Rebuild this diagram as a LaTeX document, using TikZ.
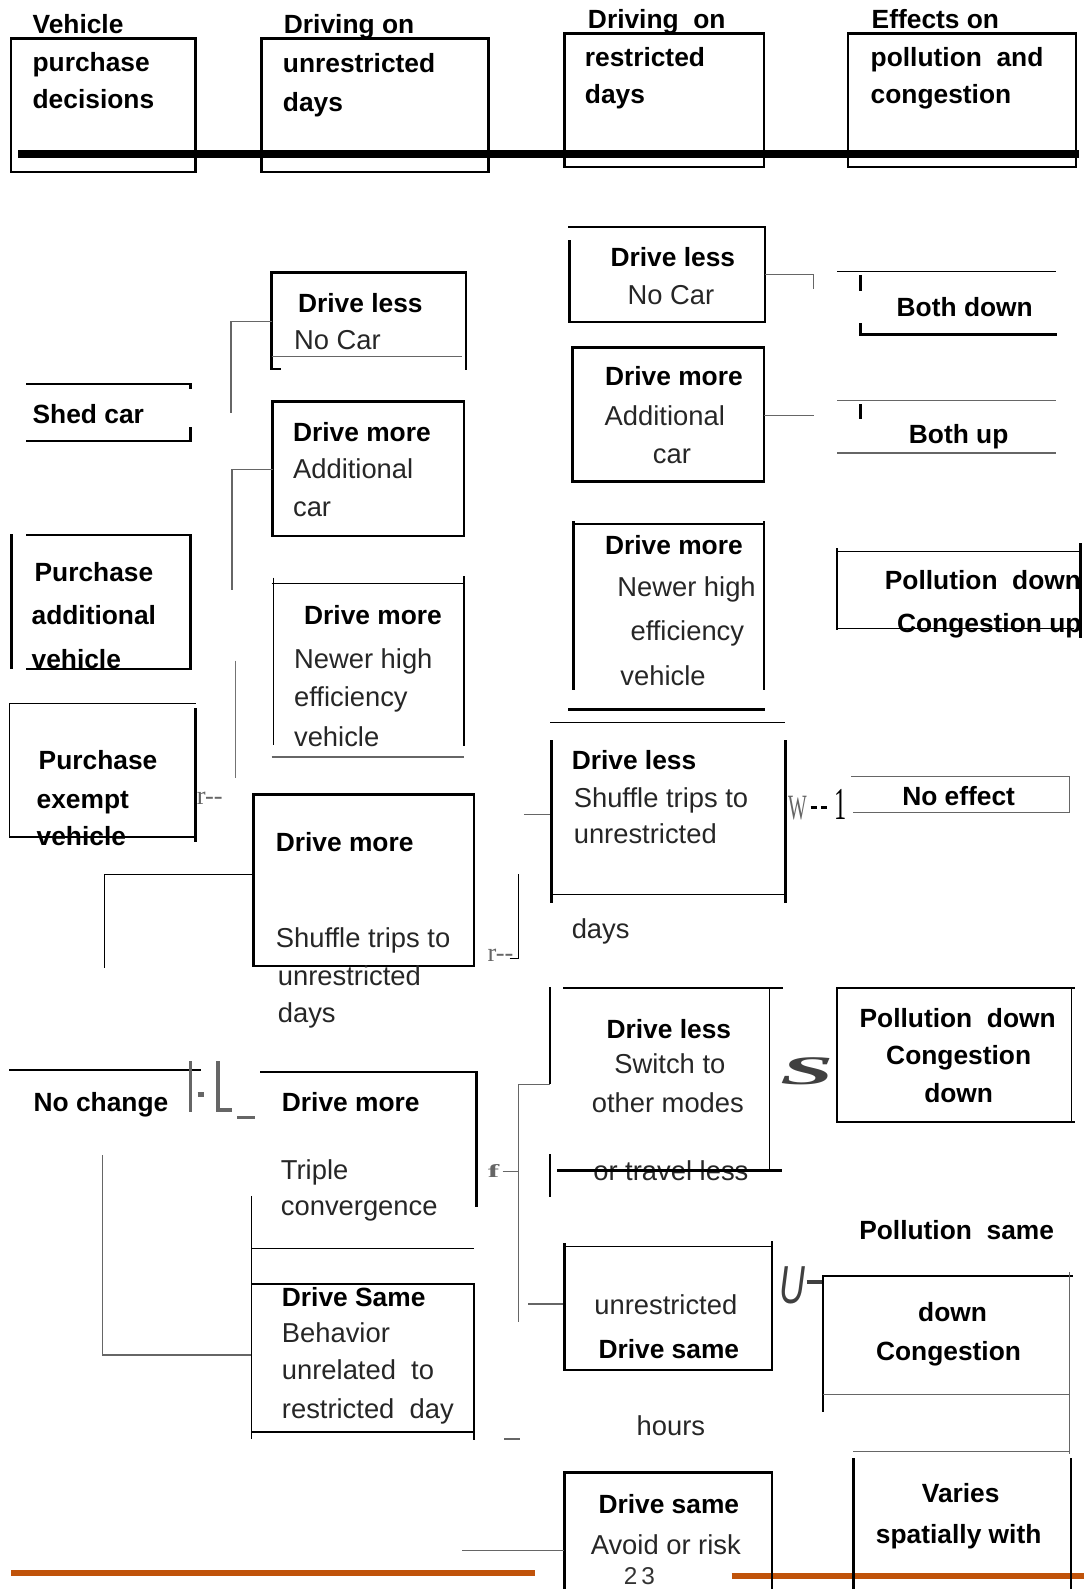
\documentclass[tikz,border=0pt]{standalone}
\usepackage{fontspec}
\setmainfont{Liberation Sans}
\newfontfamily\serifx{Liberation Serif}
\definecolor{orng}{HTML}{C0530A}
\begin{document}
\begin{tikzpicture}[x=1pt,y=-1pt,
  bt/.style={font=\bfseries\fontsize{26}{30}\selectfont, inner sep=0pt, text height=19pt, text depth=0pt},
  rt/.style={font=\fontsize{27}{32}\selectfont, text=black!85, inner sep=0pt, text height=19pt, text depth=0pt},
  thk/.style={line width=2.4pt, line cap=rect},
  thn/.style={line width=1.2pt},
  gry/.style={draw=black!60},
  glyph/.style={text=black!60, inner sep=0pt}]
\useasboundingbox (0,0) rectangle (1070,1568);
% orange footer lines
\draw[orng, line width=6pt] (11,1552) -- (528,1552);
\draw[orng, line width=6pt] (722,1555) -- (1070,1555);
% ---------- header ----------
\draw[thk] (11,38) rectangle (193,170);
\node[bt,anchor=west] (h1a) at (32,24) {Vehicle};
\node[bt,anchor=west] (h1b) at (32,61) {purchase};
\node[bt,anchor=west] (h1c) at (32,98) {decisions};
\draw[thk] (258,38) rectangle (482,170);
\node[bt,anchor=west] (h2a) at (280,24) {Driving on};
\node[bt,anchor=west] (h2b) at (279,62) {unrestricted};
\node[bt,anchor=west] (h2c) at (279,101) {days};
\draw[thk] (557,33) rectangle (754,165);
\node[bt,anchor=west] (h3a) at (580,19) {Driving\ \ on};
\node[bt,anchor=west] (h3b) at (577,56) {restricted};
\node[bt,anchor=west] (h3c) at (577,93) {days};
\draw[thk] (837,33) rectangle (1062,165);
\node[bt,anchor=west] (h4a) at (860,19) {Effects on};
\node[bt,anchor=west] (h4b) at (859,56) {pollution\ \ and};
\node[bt,anchor=west] (h4c) at (859,93) {congestion};
\draw[line width=7pt] (18,152) -- (1065,152);
% ---------- column 1 ----------
\draw[thk] (27,379) -- (188,379) -- (188,383);
\draw[thk] (27,435) -- (188,435) -- (188,423);
\node[bt,anchor=west] (shed) at (32,408) {Shed car};
\draw[line width=3pt] (11,527) -- (11,660);
\draw[thk] (27,528) -- (188,528) -- (188,660) -- (27,660);
\node[bt,anchor=west] (pa1) at (34,564) {Purchase};
\node[bt,anchor=west] (pa2) at (31,607) {additional};
\node[bt,anchor=west] (pa3) at (31,650) {vehicle};
\draw[thn] (193,694) -- (9,694) -- (9,826) -- (193,826);
\draw[thk] (193,700) -- (193,830);
\node[bt,anchor=west] (pe1) at (38,750) {Purchase};
\node[bt,anchor=west] (pe2) at (36,788) {exempt};
\node[bt,anchor=west] (pe3) at (36,825) {vehicle};
\node[glyph,anchor=west,font=\serifx\fontsize{26}{26}\selectfont] (rA) at (194,788) {r-{}-};
\draw[thk] (10,1056) -- (197,1056);
\node[bt,anchor=west] (nc) at (33,1087) {No change};
\draw[black!60, line width=3pt] (188,1047) -- (188,1097);
\draw[black!60, line width=4pt] (195,1080) -- (201,1080);
\draw[black!60, line width=4pt] (215,1047) -- (215,1095) -- (229,1095);
\draw[black!60, line width=3pt] (234,1103) -- (252,1103);
% ---------- column 2 ----------
\draw[thk] (276,364) -- (268,364) -- (268,269) -- (460,269) -- (460,364);
\draw[thn,gry] (268,352) -- (456,352);
\node[bt,anchor=west] (c2a1) at (294,299) {Drive less};
\node[rt,anchor=west] (c2a2) at (290,335) {No Car};
\coordinate (k1) at (268,317);
\draw[thn,gry] (k1) -- (228,317) -- (228,408);
\draw[thk] (269,396) rectangle (458,529);
\node[bt,anchor=west] (c2b1) at (289,426) {Drive more};
\node[rt,anchor=west] (c2b2) at (289,463) {Additional};
\node[rt,anchor=west] (c2b3) at (289,500) {car};
\coordinate (k2) at (269,463);
\draw[thn,gry] (k2) -- (229,463) -- (229,582);
\draw[thn,black!55] (232,652) -- (232,768);
\draw[thn] (268,576) -- (458,576);
\draw[thn] (270,570) -- (270,735);
\draw[thk] (458,570) -- (458,735);
\draw[thn,gry] (268,747) -- (458,747);
\node[bt,anchor=west] (c2c1) at (300,607) {Drive more};
\node[rt,anchor=west] (c2c2) at (290,650) {Newer high};
\node[rt,anchor=west] (c2c3) at (290,688) {efficiency};
\node[rt,anchor=west] (c2c4) at (290,727) {vehicle};
\draw[thk] (250,784) rectangle (468,953);
\node[bt,anchor=west] (c2d1) at (272,831) {Drive more};
\node[rt,anchor=west] (c2d2) at (272,925) {Shuffle trips to};
\node[rt,anchor=west] (c2d3) at (274,963) {unrestricted};
\node[rt,anchor=west] (c2d4) at (274,999) {days};
\coordinate (k3) at (250,863);
\draw[thn] (k3) -- (103,863) -- (103,955);
\node[glyph,anchor=west,font=\serifx\fontsize{26}{26}\selectfont] (rB) at (481,943) {r-{}-};
\draw[thn] (503,946) -- (512,946) -- (512,862);
\draw[thn,gry] (517,804) -- (543,804);
\draw[thk] (258,1058) -- (470,1058) -- (470,1190);
\draw[thn] (248,1180) -- (248,1420);
\draw[thn] (248,1232) -- (468,1232);
\node[bt,anchor=west] (c2e1) at (278,1087) {Drive more};
\node[rt,anchor=west] (c2e2) at (277,1154) {Triple};
\node[rt,anchor=west] (c2e3) at (277,1190) {convergence};
\node[glyph,anchor=center,font=\serifx\bfseries\fontsize{26}{26}\selectfont] (fA) at (487,1156) {\scalebox{1.3}[0.7]{f}};
\draw[thn,gry] (496,1156) -- (512,1156);
\draw[thn,gry] (512,1070) -- (512,1305);
\draw[thn,gry] (512,1070) -- (543,1070);
\draw[thk,gry] (522,1287) -- (555,1287);
\draw[thn] (248,1267) -- (468,1267);
\draw[thk] (468,1267) -- (468,1420);
\draw[thn] (248,1413) -- (468,1413);
\node[bt,anchor=west] (c2f1) at (278,1280) {Drive Same};
\node[rt,anchor=west] (c2f2) at (278,1315) {Behavior};
\node[rt,anchor=west] (c2f3) at (278,1352) {unrelated\ \ to};
\node[rt,anchor=west] (c2f4) at (278,1390) {restricted\ \ day};
\coordinate (k4) at (248,1337);
\draw[thn,gry] (101,1140) -- (101,1337) -- (k4);
\draw[thk,gry] (499,1420) -- (512,1420);
% ---------- column 3 ----------
\draw[thk] (562,224) -- (755,224) -- (755,318) -- (562,318) -- (562,238);
\node[bt] (c3a1) at (664,253) {Drive less};
\node[rt] (c3a2) at (662,291) {No Car};
\coordinate (k5) at (755,271);
\draw[thn,gry] (k5) -- (803,271) -- (803,285);
\draw[thk] (565,343) rectangle (754,475);
\node[bt] (c3b1) at (665,371) {Drive more};
\node[rt] (c3b2) at (656,410) {Additional};
\node[rt] (c3b3) at (663,448) {car};
\coordinate (k6) at (754,410);
\draw[thn,gry] (k6) -- (803,410);
\draw[thn] (565,517) -- (754,517);
\draw[thk] (566,515) -- (566,680);
\draw[thk] (754,515) -- (754,680);
\draw[thk] (562,700) -- (754,700);
\node[bt] (c3c1) at (665,538) {Drive more};
\node[rt,anchor=west] (c3c2) at (609,579) {Newer high};
\node[rt,anchor=west] (c3c3) at (622,623) {efficiency};
\node[rt,anchor=west] (c3c4) at (612,667) {vehicle};
\draw[thn] (543,713) -- (775,713);
\draw[thk] (544,731) -- (544,890);
\draw[thk] (775,731) -- (775,890);
\draw[thn] (543,883) -- (775,883);
\node[bt,anchor=west] (c3d1) at (564,750) {Drive less};
\node[rt,anchor=west] (c3d2) at (566,787) {Shuffle trips to};
\node[rt,anchor=west] (c3d3) at (566,823) {unrestricted};
\node[rt,anchor=west] (c3d4) at (564,917) {days};
\node[glyph,anchor=center,font=\serifx\fontsize{26}{26}\selectfont] (wA) at (787,797) {\scalebox{0.75}[1.35]{W}};
\draw[line width=3pt] (800,797) -- (806,797);
\draw[line width=3pt] (810,797) -- (816,797);
\node[anchor=center,inner sep=0pt,font=\serifx\fontsize{30}{30}\selectfont] (wC) at (829,794) {\scalebox{0.8}[1.5]{1}};
\draw[thn] (556,975) -- (773,975);
\draw[thk] (543,975) -- (543,1068);
\draw[thk] (543,1140) -- (543,1180);
\draw[thn] (759,975) -- (759,1155);
\node[bt] (c3e1) at (660,1015) {Drive less};
\node[rt] (c3e2) at (661,1050) {Switch to};
\node[rt] (c3e3) at (659,1088) {other modes};
\node[rt] (c3e4) at (662,1155) {or travel less};
\draw[thk] (551,1155) -- (770,1155);
\node[text=black!75,inner sep=0pt,font=\serifx\bfseries\itshape\fontsize{50}{50}\selectfont] (sA) at (797,1057) {\scalebox{1.9}[0.8]{S}};
\draw[thn] (557,1230) -- (762,1230);
\draw[thk] (557,1228) -- (557,1352) -- (762,1352) -- (762,1226);
\node[rt] (c3f1) at (657,1288) {unrestricted};
\node[bt] (c3f2) at (660,1331) {Drive same};
\node[rt] (c3f3) at (662,1407) {hours};
\node[text=black!75,inner sep=0pt,font=\itshape\fontsize{44}{44}\selectfont] (uA) at (782,1268) {\scalebox{0.8}[1.2]{U}};
\draw[black!75, line width=4pt] (796,1265) -- (812,1265);
\draw[thk] (557,1568) -- (557,1453) -- (762,1453) -- (762,1568);
\node[bt] (c3g1) at (660,1484) {Drive same};
\node[rt] (c3g2) at (657,1524) {Avoid or risk};
\node[inner sep=0pt,text=black!80,font=\fontsize{24}{24}\selectfont] (pg) at (631,1555) {2\,3};
\coordinate (k7) at (557,1530);
\draw[thn,gry] (456,1530) -- (k7);
% ---------- column 4 ----------
\draw[thn] (826,268) -- (1042,268);
\draw[thk] (849,273) -- (849,286);
\draw[thk] (849,320) -- (849,330) -- (1042,330);
\node[bt] (c4a) at (952,303) {Both down};
\draw[thn,gry] (826,395) -- (1042,395);
\draw[thk] (849,400) -- (849,412);
\draw[thn,gry] (826,447) -- (1042,447);
\node[bt] (c4b) at (946,428) {Both up};
\draw[thn] (826,544) -- (1065,544);
\draw[thn] (826,541) -- (826,622);
\draw[thk] (1066,537) -- (1066,628);
\node[bt,anchor=west] (c4c1) at (873,572) {Pollution\ \ down};
\node[bt,anchor=west] (c4c2) at (885,615) {Congestion up};
\draw[thn] (826,620) -- (1060,620);
\draw[thn,gry] (840,766) -- (1055,766) -- (1055,802) -- (842,802);
\node[bt] (c4d) at (946,785) {No effect};
\draw[thk] (826,975) -- (1060,975);
\draw[thk] (826,975) -- (826,1107) -- (1060,1107);
\draw[thn] (1057,975) -- (1057,1107);
\node[bt] (c4e1) at (945,1004) {Pollution\ \ down};
\node[bt] (c4e2) at (946,1041) {Congestion};
\node[bt] (c4e3) at (946,1078) {down};
\node[bt] (c4f0) at (944,1214) {Pollution\ \ same};
\draw[thk] (812,1392) -- (812,1259) -- (1058,1259);
\draw[thn,gry] (812,1376) -- (1055,1376);
\draw[thn,gry] (1055,1255) -- (1055,1435);
\node[bt] (c4f1) at (940,1295) {down};
\node[bt] (c4f2) at (936,1333) {Congestion};
\draw[thn,gry] (842,1432) -- (1055,1432);
\draw[thk] (842,1440) -- (842,1568);
\draw[thk] (1057,1440) -- (1057,1568);
\node[bt] (c4g1) at (948,1473) {Varies};
\node[bt] (c4g2) at (946,1514) {spatially with};
\end{tikzpicture}
\end{document}
